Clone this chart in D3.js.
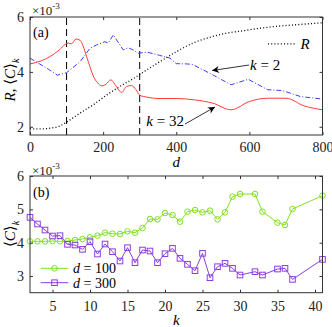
<html>
<head>
<script src="https://d3js.org/d3.v7.min.js"></script>
<style>
body { margin: 0; background: #fff; }
svg { display: block; font-family: "Liberation Serif", "DejaVu Serif", serif; }
</style>
</head>
<body>
<div id="plot"></div>
<script>

var width = 332, height = 327;

// ---- panel (a) data ----
var dTicks = [0, 200, 400, 600, 800];
var aTicks = [2, 4, 6];
var dMarks = [100, 300];

var redD = [0, 30, 55, 80, 96, 105, 113, 126, 137, 145, 155, 165, 173, 185, 196, 208, 221, 232, 245, 251, 264, 278, 290, 300, 320, 350, 400, 450, 500, 550, 600, 650, 700, 750, 800];
var redC = [4.29, 4.40, 4.56, 4.80, 5.0, 5.05, 5.02, 5.2, 5.15, 4.95, 4.55, 4.15, 3.85, 3.6, 3.49, 3.55, 3.71, 3.55, 3.3, 3.25, 3.47, 3.50, 3.35, 3.15, 3.08, 3.03, 3.03, 2.98, 2.86, 2.62, 2.92, 3.04, 3.04, 2.76, 2.62];

var blueD = [0, 25, 50, 75, 100, 137, 164, 182, 205, 214, 228, 237, 255, 269, 282, 296, 320, 355, 383, 400, 430, 445, 474, 500, 550, 597, 650, 690, 740, 800];
var blueC = [4.5, 4.3, 4.1, 3.88, 3.97, 4.37, 4.86, 4.98, 5.1, 5.05, 5.35, 5.16, 4.8, 4.88, 4.8, 4.68, 4.72, 4.6, 4.5, 4.3, 4.29, 4.27, 4.07, 3.89, 3.53, 3.73, 3.35, 3.32, 3.10, 3.01];

var rD = [0, 30, 55, 82, 100, 137, 173, 210, 246, 282, 319, 355, 401, 446, 492, 538, 583, 629, 674, 720, 800];
var rV = [1.92, 1.92, 1.95, 2.03, 2.17, 2.5, 2.8, 3.16, 3.47, 3.75, 4.07, 4.37, 4.74, 5.05, 5.26, 5.41, 5.5, 5.59, 5.66, 5.71, 5.79];

// ---- panel (b) data ----
var kTicks = [5, 10, 15, 20, 25, 30, 35, 40];
var bTicks = [3, 4, 5, 6];
var kVals = [2, 3, 4, 5, 6, 7, 8, 9, 10, 11, 12, 13, 14, 15, 16, 17, 18, 19, 20, 21, 22, 23, 24, 25, 26, 27, 28, 29, 30, 32, 33, 35, 36, 37, 41];
var c100 = [4.04, 4.04, 4.04, 4.05, 4.04, 4.05, 4.08, 4.11, 4.16, 4.21, 4.30, 4.27, 4.26, 4.34, 4.30, 4.44, 4.71, 4.70, 4.89, 4.83, 4.63, 4.93, 4.98, 4.91, 4.96, 4.70, 4.91, 5.38, 5.46, 5.46, 4.93, 4.60, 4.53, 5.01, 5.41];
var c300 = [4.76, 4.56, 4.38, 4.20, 4.21, 3.95, 3.93, 3.80, 4.03, 3.66, 3.96, 3.73, 3.45, 3.85, 3.40, 3.78, 3.75, 3.40, 3.67, 3.83, 3.53, 3.35, 3.16, 3.68, 2.95, 3.28, 3.38, 3.23, 3.03, 3.13, 3.03, 3.21, 3.23, 2.90, 3.50];

var redCol = "#ff3c3c", blueCol = "#3c3cff", greenCol = "#80e020", purpleCol = "#8c3ce6";

var svg = d3.select("#plot").append("svg").attr("width", width).attr("height", height);

svg.append("defs").append("marker")
  .attr("id", "arrow").attr("viewBox", "0 0 10 10")
  .attr("refX", 10).attr("refY", 5)
  .attr("markerWidth", 9).attr("markerHeight", 7)
  .attr("markerUnits", "userSpaceOnUse")
  .attr("orient", "auto")
  .append("path").attr("d", "M0,0 L10,5 L0,10 L3,5 z").style("fill", "#000");

var left = 30, right = 322.5;

var xA = d3.scaleLinear().domain([0, 800]).range([left, right]);
var yA = d3.scaleLinear().domain([1.7, 6]).range([135, 17]);
var xB = d3.scaleLinear().domain([2, 41]).range([left, right]);
var yB = d3.scaleLinear().domain([2.5, 6]).range([292.7, 176]);

var fmt = d3.format("d");

function frame(x, y, xt, yt, pad) {
  var g = svg.append("g");
  var x0 = x.range()[0], x1 = x.range()[1], y0 = y.range()[0], y1 = y.range()[1];
  g.append("g").attr("transform", "translate(0," + y0 + ")")
    .call(d3.axisBottom(x).tickValues(xt).tickSize(-3).tickPadding(pad).tickFormat(fmt));
  g.append("g").attr("transform", "translate(0," + y1 + ")")
    .call(d3.axisTop(x).tickValues(xt).tickSize(-3).tickFormat(""));
  g.append("g").attr("transform", "translate(" + x0 + ",0)")
    .call(d3.axisLeft(y).tickValues(yt).tickSize(-3).tickPadding(6).tickFormat(fmt));
  g.append("g").attr("transform", "translate(" + x1 + ",0)")
    .call(d3.axisRight(y).tickValues(yt).tickSize(-3).tickFormat(""));
  g.selectAll(".domain").remove();
  g.selectAll(".tick line").style("stroke", "#333");
  g.selectAll(".tick text").style("font-family", "Liberation Serif, serif").style("font-size", "14px").style("fill", "#222");
  g.append("rect").attr("x", x0).attr("y", y1).attr("width", x1 - x0).attr("height", y0 - y1)
    .style("fill", "none").style("stroke", "#333").style("stroke-width", 1);
  return g;
}

function expo(yPos) {
  var t = svg.append("text").attr("x", 32).attr("y", yPos).style("font-size", "13px").style("fill", "#222");
  t.append("tspan").text("\u00d710");
  t.append("tspan").attr("dy", -6).style("font-size", "9px").text("-3");
}

// ---------- panel (a) ----------
var ga = svg.append("g");

dMarks.forEach(function(d) {
  ga.append("line").attr("x1", xA(d)).attr("x2", xA(d)).attr("y1", yA(1.7)).attr("y2", yA(6))
    .style("stroke", "#000").style("stroke-dasharray", "7,4").style("stroke-width", 1);
});

var lineA = function(xs, ys, curve) {
  return d3.line().x(function(d) { return xA(d[0]); }).y(function(d) { return yA(d[1]); }).curve(curve)(d3.zip(xs, ys));
};

ga.append("path").attr("d", lineA(rD, rV, d3.curveMonotoneX))
  .style("fill", "none").style("stroke", "#000").style("stroke-width", 1.3).style("stroke-dasharray", "1,2.2");
ga.append("path").attr("d", lineA(blueD, blueC, d3.curveLinear))
  .style("fill", "none").style("stroke", blueCol).style("stroke-width", 1).style("stroke-dasharray", "5,2,1,2");
ga.append("path").attr("d", lineA(redD, redC, d3.curveMonotoneX))
  .style("fill", "none").style("stroke", redCol).style("stroke-width", 1);

frame(xA, yA, dTicks, aTicks, 7);
expo(15);

svg.append("text").attr("x", 33).attr("y", 37).style("font-size", "14px").text("(a)");

// legend R
ga.append("line").attr("x1", xA(651)).attr("x2", xA(730)).attr("y1", yA(5.02)).attr("y2", yA(5.02))
  .style("stroke", "#000").style("stroke-width", 1.3).style("stroke-dasharray", "1,2.2");
svg.append("text").attr("x", xA(740)).attr("y", yA(4.85)).style("font-size", "15px").style("font-style", "italic").text("R");

// annotations
svg.append("line").attr("x1", xA(599)).attr("y1", yA(4.25)).attr("x2", xA(498)).attr("y2", yA(4.05))
  .style("stroke", "#000").style("stroke-width", 0.8).attr("marker-end", "url(#arrow)");
var t2 = svg.append("text").attr("x", xA(602)).attr("y", yA(4.07)).style("font-size", "15px");
t2.append("tspan").style("font-style", "italic").text("k");
t2.append("tspan").text(" = 2");

svg.append("line").attr("x1", xA(424)).attr("y1", yA(2.1)).attr("x2", xA(506)).attr("y2", yA(2.72))
  .style("stroke", "#000").style("stroke-width", 0.8).attr("marker-end", "url(#arrow)");
var t32 = svg.append("text").attr("x", xA(421)).attr("y", yA(2.03)).attr("text-anchor", "end").style("font-size", "15px");
t32.append("tspan").style("font-style", "italic").text("k");
t32.append("tspan").text(" = 32");

// axis labels (a)
svg.append("text").attr("x", xA(400)).attr("y", 167).attr("text-anchor", "middle")
  .style("font-size", "15px").style("font-style", "italic").text("d");
var yla = svg.append("text").attr("transform", "translate(15," + 80 + ") rotate(-90)")
  .attr("text-anchor", "middle").style("font-size", "15px");
yla.append("tspan").style("font-style", "italic").text("R");
yla.append("tspan").text(", \u27e8");
yla.append("tspan").style("font-style", "italic").text("C");
yla.append("tspan").text("\u27e9");
yla.append("tspan").attr("dy", 4).style("font-size", "10px").style("font-style", "italic").text("k");

// ---------- panel (b) ----------
var gb = svg.append("g");
var ptsB = function(ys) { return d3.zip(kVals, ys); };
var lineB = d3.line().x(function(d) { return xB(d[0]); }).y(function(d) { return yB(d[1]); });

gb.append("path").attr("d", lineB(ptsB(c100))).style("fill", "none").style("stroke", greenCol).style("stroke-width", 1);
gb.selectAll(".c100").data(ptsB(c100)).enter().append("circle")
  .attr("class", "c100")
  .attr("cx", function(d) { return xB(d[0]); })
  .attr("cy", function(d) { return yB(d[1]); })
  .attr("r", 2.8)
  .style("fill", "none").style("stroke", greenCol).style("stroke-width", 1);

gb.append("path").attr("d", lineB(ptsB(c300))).style("fill", "none").style("stroke", purpleCol).style("stroke-width", 1);
gb.selectAll(".c300").data(ptsB(c300)).enter().append("rect")
  .attr("class", "c300")
  .attr("x", function(d) { return xB(d[0]) - 2.8; })
  .attr("y", function(d) { return yB(d[1]) - 2.8; })
  .attr("width", 5.6).attr("height", 5.6)
  .style("fill", "none").style("stroke", purpleCol).style("stroke-width", 1);

frame(xB, yB, kTicks, bTicks, 8);
expo(175);
svg.append("text").attr("x", 33).attr("y", 197).style("font-size", "14px").text("(b)");

// legend (b)
var legend = [
  { label: "100", color: greenCol, shape: "circle", y: 268.3 },
  { label: "300", color: purpleCol, shape: "square", y: 282.7 }
];
legend.forEach(function(l) {
  svg.append("line").attr("x1", 40.7).attr("x2", 68.3).attr("y1", l.y).attr("y2", l.y)
    .style("stroke", l.color).style("stroke-width", 1);
  if (l.shape == "circle") {
    svg.append("circle").attr("cx", 54.5).attr("cy", l.y).attr("r", 2.8)
      .style("fill", "none").style("stroke", l.color);
  } else {
    svg.append("rect").attr("x", 54.5 - 2.8).attr("y", l.y - 2.8).attr("width", 5.6).attr("height", 5.6)
      .style("fill", "none").style("stroke", l.color);
  }
  var t = svg.append("text").attr("x", 73).attr("y", l.y + 5).style("font-size", "14px");
  t.append("tspan").style("font-style", "italic").text("d");
  t.append("tspan").text(" = " + l.label);
});

svg.append("text").attr("x", xB(21.5)).attr("y", 325).attr("text-anchor", "middle")
  .style("font-size", "15px").style("font-style", "italic").text("k");
var ylb = svg.append("text").attr("transform", "translate(15," + 234 + ") rotate(-90)")
  .attr("text-anchor", "middle").style("font-size", "15px");
ylb.append("tspan").text("\u27e8");
ylb.append("tspan").style("font-style", "italic").text("C");
ylb.append("tspan").text("\u27e9");
ylb.append("tspan").attr("dy", 4).style("font-size", "10px").style("font-style", "italic").text("k");

</script>
</body>
</html>
